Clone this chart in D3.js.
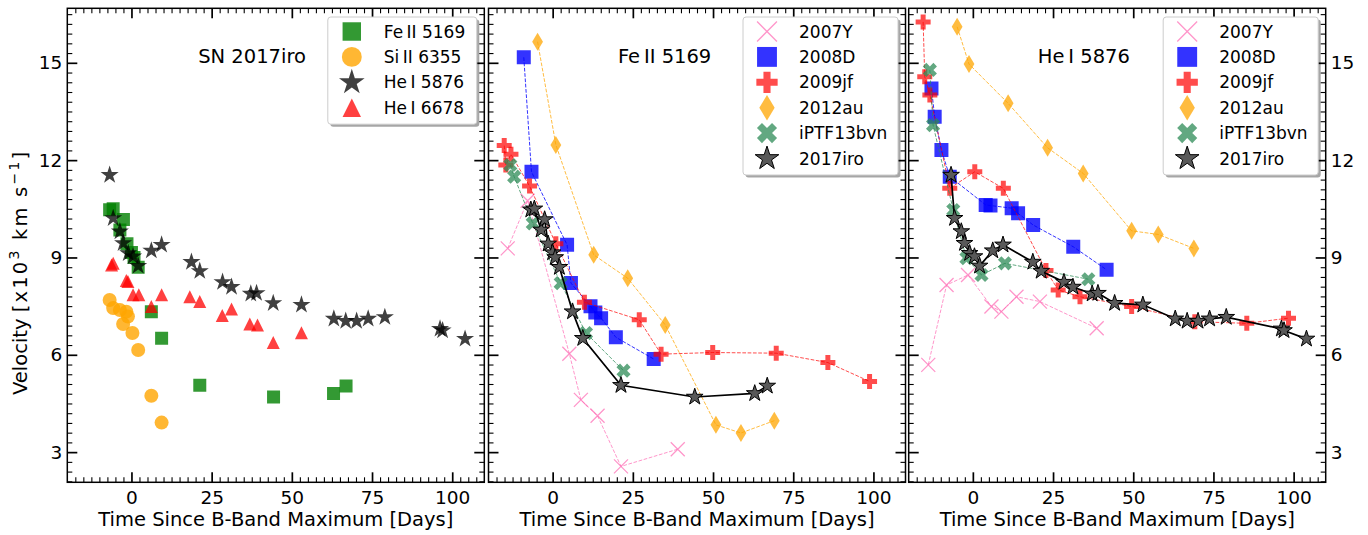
<!DOCTYPE html>
<html>
<head>
<meta charset="utf-8">
<script src="https://cdn.jsdelivr.net/npm/d3@7"></script>
<style>
  body { margin: 0; background: #fff; }
  svg { display: block; font-family: 'DejaVu Sans', sans-serif; }
</style>
</head>
<body>
<svg id="chart" width="1368" height="535"></svg>
<script>
// ---- data: [days since B max, velocity in 10^3 km/s] ----

// SN 2017iro lines (left panel)
const iroFeII5169 = [[-6.8, 10.47], [-5.7, 10.5], [-3.6, 9.85], [-2.5, 10.17], [-1.4, 9.42], [0.0, 9.15],
  [0.8, 9.0], [2.1, 8.7], [6.2, 7.33], [9.4, 6.51], [21.3, 5.06], [44.3, 4.70], [63.0, 4.81], [66.9, 5.04]];
const iroSiII6355 = [[-6.8, 7.69], [-5.7, 7.44], [-3.6, 7.38], [-1.6, 7.33], [-1.1, 7.18], [-2.6, 6.95],
  [0.3, 6.67], [2.1, 6.15], [6.2, 4.74], [9.4, 3.91]];
const iroHeI5876 = [[-6.8, 11.54], [-5.7, 10.21], [-3.6, 9.8], [-2.6, 9.44], [-1.0, 9.13], [0.5, 9.03],
  [2.1, 8.74], [6.2, 9.21], [9.4, 9.39], [18.7, 8.86], [21.3, 8.58], [28.4, 8.24], [31.2, 8.09],
  [37.2, 7.88], [39.0, 7.90], [44.2, 7.59], [53.0, 7.54], [63.1, 7.11], [66.8, 7.04], [70.2, 7.04],
  [73.8, 7.11], [79.0, 7.16], [96.2, 6.80], [97.0, 6.75], [104.0, 6.49]];
const iroHeI6678 = [[-6.2, 8.77], [-5.7, 8.82], [-1.6, 8.29], [-1.1, 8.26], [0.5, 7.85], [2.3, 7.85],
  [6.2, 7.49], [9.4, 7.85], [18.2, 7.79], [21.3, 7.64], [28.3, 7.21], [31.2, 7.41], [36.9, 6.95],
  [39.3, 6.92], [44.2, 6.38], [53.0, 6.68]];

// comparison objects, Fe II 5169
const feII_2007Y = [[-14.0, 9.28], [-7.8, 10.75], [5.2, 6.03], [8.8, 4.61], [14.0, 4.12], [21.3, 2.56], [39.0, 3.09]];
const feII_2008D = [[-9.0, 15.17], [-6.6, 11.64], [4.5, 9.39], [5.7, 8.21], [11.8, 7.5], [13.3, 7.3],
  [15.1, 7.13], [19.7, 6.54], [31.5, 5.87]];
const feII_2009jf = [[-15.1, 12.45], [-14.6, 11.85], [-13.0, 12.18], [-7.2, 11.2], [1.0, 9.42], [9.9, 7.62],
  [27.0, 7.08], [33.8, 6.02], [49.9, 6.07], [69.7, 6.05], [85.8, 5.76], [98.8, 5.18]];
const feII_2012au = [[-4.7, 15.65], [1.0, 12.47], [12.8, 9.08], [23.4, 8.36], [35.1, 6.92], [50.9, 3.84],
  [58.7, 3.59], [69.1, 3.97]];
const feII_iPTF13bvn = [[-13.2, 11.85], [-12.0, 11.49], [-6.2, 10.05], [2.5, 8.21], [10.4, 6.67], [22.1, 5.51]];

// comparison objects, He I 5876
const heI_2007Y = [[-13.9, 5.69], [-8.2, 8.15], [-1.5, 8.46], [5.8, 7.49], [8.9, 7.33], [13.6, 7.79],
  [20.9, 7.64], [38.6, 6.82]];
const heI_2008D = [[-12.9, 14.21], [-11.9, 13.34], [-9.8, 12.31], [-7.2, 11.49], [4.0, 10.62], [5.5, 10.6],
  [12.1, 10.52], [14.1, 10.36], [18.8, 10.0], [31.3, 9.33], [41.7, 8.62]];
const heI_2009jf = [[-15.5, 16.26], [-15.0, 14.57], [-13.4, 14.01], [-7.2, 11.13], [0.6, 11.64], [9.5, 11.13],
  [22.8, 8.6], [26.6, 8.0], [33.4, 7.79], [49.5, 7.49], [69.2, 7.02], [85.4, 6.97], [98.4, 7.13]];
const heI_2012au = [[-4.9, 16.11], [-1.2, 14.96], [11.0, 13.75], [23.3, 12.38], [34.4, 11.59], [49.5, 9.82],
  [57.8, 9.71], [68.9, 9.28]];
const heI_iPTF13bvn = [[-13.4, 14.78], [-12.4, 13.08], [-6.1, 10.46], [-2.0, 8.98], [2.7, 8.46], [10.0, 8.82],
  [36.0, 8.33]];

const xTicks = [0, 25, 50, 75, 100];
const yTicks = [3, 6, 9, 12, 15];
const lineNames = ['Fe\u2009II 5169', 'Si\u2009II 6355', 'He\u2009I 5876', 'He\u2009I 6678'];
const objectNames = ['2007Y', '2008D', '2009jf', '2012au', 'iPTF13bvn', '2017iro'];
const panelTitles = ['SN 2017iro', 'Fe\u2009II 5169', 'He\u2009I 5876'];
const titleDays = [37.6, 34.9, 34.6];

// ---- layout ----
const panelLefts = [67.3, 488.5, 908.7];
const panelWidth = 417;
const plotTop = 8.3, plotBottom = 482.3;
const xDomain = [-20, 110], yDomain = [2.07, 16.68];
const tickFont = 18.5, labelFont = 19.5, legendFont = 17;


// marker outlines, s = full extent in px
const markerPath = {
  square: s => `M${-s / 2},${-s / 2}h${s}v${s}h${-s}Z`,
  circle: s => {
    const r = s / 2;
    return `M${r},0A${r},${r} 0 1,1 ${-r},0A${r},${r} 0 1,1 ${r},0Z`;
  },
  star: s => {
    const pts = d3.range(10).map(i => {
      const a = -Math.PI / 2 + i * Math.PI / 5, r = i % 2 ? s / 2 * 0.382 : s / 2;
      return [r * Math.cos(a), r * Math.sin(a)];
    });
    return 'M' + pts.join('L') + 'Z';
  },
  triangle: s => `M0,${-s / 2}L${s / 2},${s / 2}L${-s / 2},${s / 2}Z`,
  diamond: s => `M0,${-s / 2}L${s * 0.3},0L0,${s / 2}L${-s * 0.3},0Z`,
  plus: s => {
    const a = s / 2, b = s / 6;
    return `M${-b},${-a}H${b}V${-b}H${a}V${b}H${b}V${a}H${-b}V${b}H${-a}V${-b}H${-b}Z`;
  },
  xfilled: s => {
    const a = s / 2, b = s / 6, c = Math.SQRT1_2;
    const pts = [[-b, -a], [b, -a], [b, -b], [a, -b], [a, b], [b, b], [b, a], [-b, a], [-b, b], [-a, b], [-a, -b], [-b, -b]]
      .map(([px, py]) => [(px - py) * c, (px + py) * c]);
    return 'M' + pts.join('L') + 'Z';
  },
  x: s => `M${-s / 2},${-s / 2}L${s / 2},${s / 2}M${-s / 2},${s / 2}L${s / 2},${-s / 2}`
};

const lineStyles = [
  {shape: 'square', color: 'green', alpha: 0.8, size: 13},
  {shape: 'circle', color: 'orange', alpha: 0.8, size: 14},
  {shape: 'star', color: 'black', alpha: 0.75, size: 19},
  {shape: 'triangle', color: 'red', alpha: 0.75, size: 13}
];
const objectStyles = [
  {shape: 'x', color: '#ff69b4', alpha: 0.7, size: 14},
  {shape: 'square', color: 'blue', alpha: 0.8, size: 14},
  {shape: 'plus', color: 'red', alpha: 0.7, size: 15},
  {shape: 'diamond', color: 'orange', alpha: 0.75, size: 18},
  {shape: 'xfilled', color: 'seagreen', alpha: 0.75, size: 15},
  {shape: 'star', color: '#595959', alpha: 1, size: 17.5, edge: 'black'}
];


const svg = d3.select('#chart');
svg.append('rect').attr('width', 1368).attr('height', 535).attr('fill', '#fff');

const y = d3.scaleLinear().domain(yDomain).range([plotBottom, plotTop]);


function drawMarkers(selection, pts, x, st, scale) {
  const s = st.size * (scale || 1);
  const stroked = st.shape === 'x';
  selection.selectAll(null)
    .data(pts)
    .join('path')
      .attr('transform', d => `translate(${x(d[0])},${y(d[1])})`)
      .attr('d', markerPath[st.shape](s))
      .attr('fill', stroked ? 'none' : st.color)
      .attr('stroke', stroked ? st.color : (st.edge || 'none'))
      .attr('stroke-width', stroked ? 1.3 : 1)
      .attr('opacity', st.alpha);
}


function drawSeries(selection, pts, x, st, dashed) {
  const line = d3.line().x(d => x(d[0])).y(d => y(d[1]));
  if (dashed) {
    selection.append('path')
        .datum(pts)
        .attr('d', line)
        .attr('fill', 'none')
        .attr('stroke', st.color)
        .attr('stroke-width', 1)
        .attr('stroke-dasharray', '3.7,1.6')
        .attr('opacity', st.alpha);
  } else if (st.edge) {
    selection.append('path')
        .datum(pts)
        .attr('d', line)
        .attr('fill', 'none')
        .attr('stroke', 'black')
        .attr('stroke-width', 1.7);
  }
  selection.append('g').call(drawMarkers, pts, x, st);
}


function drawAxes(selection, x, i) {
  const minorX = d3.range(-17.5, 110, 2.5).filter(v => v % 25 !== 0);
  const minorY = d3.range(21, 167, 3).filter(v => v % 30 !== 0).map(v => v / 10);
  const right = panelLefts[i] + panelWidth;

  // [axis factory, translate, show labels, is x]
  const axes = [
    [() => d3.axisBottom(x), `translate(0,${plotBottom})`, true, true],
    [() => d3.axisTop(x), `translate(0,${plotTop})`, false, true],
    [() => d3.axisLeft(y), `translate(${panelLefts[i]},0)`, i === 0, false],
    [() => d3.axisRight(y), `translate(${right},0)`, i === 2, false]
  ];
  axes.forEach(([makeAxis, tr, labels, isX]) => {
    const g = selection.append('g').attr('transform', tr);
    // minor ticks
    g.append('g')
        .call(makeAxis().tickValues(isX ? minorX : minorY).tickSize(-5).tickFormat(''))
        .call(a => a.select('.domain').remove())
        .call(a => a.selectAll('line').attr('stroke-width', 1.1));
    // major ticks
    g.append('g')
        .call(makeAxis().tickValues(isX ? xTicks : yTicks).tickSize(-10)
          .tickPadding(isX ? 9 : 5)
          .tickFormat(labels ? d3.format('d') : ''))
        .call(a => a.select('.domain').remove())
        .call(a => a.selectAll('line').attr('stroke-width', 1.7))
        .call(a => a.selectAll('text')
          .attr('font-size', tickFont)
          .attr('font-family', 'DejaVu Sans')
          .attr('fill', '#000'));
  });

  selection.append('rect')
      .attr('x', panelLefts[i])
      .attr('y', plotTop)
      .attr('width', panelWidth)
      .attr('height', plotBottom - plotTop)
      .attr('fill', 'none')
      .attr('stroke', '#000')
      .attr('stroke-width', 1.5);

  selection.append('text')
      .attr('x', panelLefts[i] + panelWidth / 2)
      .attr('y', 526)
      .attr('text-anchor', 'middle')
      .attr('font-size', labelFont)
      .text('Time Since B-Band Maximum [Days]');
}


function drawLegend(selection, names, styles, i, w) {
  const right = panelLefts[i] + panelWidth - 7.5;
  const left = right - w;
  const top = 17;
  const step = 25.4;
  const h = 14 + step * (names.length - 1) + 17;
  const g = selection.append('g').attr('transform', `translate(${left},${top})`);
  g.append('rect')
      .attr('x', 2.5).attr('y', 2.5)
      .attr('width', w).attr('height', h)
      .attr('rx', 3)
      .attr('fill', '#000')
      .attr('opacity', 0.35);
  g.append('rect')
      .attr('width', w).attr('height', h)
      .attr('rx', 3)
      .attr('fill', '#fff')
      .attr('stroke', '#cccccc')
      .attr('stroke-width', 1);
  names.forEach((name, k) => {
    const cy = 14.5 + k * step;
    const st = styles[k];
    const item = g.append('g').attr('transform', `translate(24,${cy})`);
    item.append('path')
        .attr('d', markerPath[st.shape](st.size * 1.42))
        .attr('fill', st.shape === 'x' ? 'none' : st.color)
        .attr('stroke', st.shape === 'x' ? st.color : (st.edge || 'none'))
        .attr('stroke-width', st.shape === 'x' ? 1.3 : 1)
        .attr('opacity', st.edge ? 1 : st.alpha);
    g.append('text')
        .attr('x', 56)
        .attr('y', cy)
        .attr('dy', '0.36em')
        .attr('font-size', legendFont)
        .text(name);
  });
}


// ---- panels ----
const comparisons = [
  [feII_2007Y, feII_2008D, feII_2009jf, feII_2012au, feII_iPTF13bvn, iroFeII5169],
  [heI_2007Y, heI_2008D, heI_2009jf, heI_2012au, heI_iPTF13bvn, iroHeI5876]
];

panelLefts.forEach((left, i) => {
  const x = d3.scaleLinear().domain(xDomain).range([left, left + panelWidth]);
  const panel = svg.append('g').attr('class', 'panel');
  const clipId = 'clip' + i;
  panel.append('clipPath').attr('id', clipId)
    .append('rect')
      .attr('x', left).attr('y', plotTop)
      .attr('width', panelWidth).attr('height', plotBottom - plotTop);
  const data = panel.append('g').attr('clip-path', `url(#${clipId})`);

  if (i === 0) {
    [iroFeII5169, iroSiII6355, iroHeI5876, iroHeI6678].forEach((pts, k) => {
      data.append('g').call(drawMarkers, pts, x, lineStyles[k]);
    });
  } else {
    comparisons[i - 1].forEach((pts, k) => {
      data.append('g').call(drawSeries, pts, x, objectStyles[k], k < 5);
    });
  }

  panel.append('text')
      .attr('x', x(titleDays[i]))
      .attr('y', y(15))
      .attr('text-anchor', 'middle')
      .attr('font-size', labelFont)
      .text(panelTitles[i]);

  panel.call(drawAxes, x, i);

  if (i === 0) {
    panel.call(drawLegend, lineNames, lineStyles, i, 149);
  } else {
    panel.call(drawLegend, objectNames, objectStyles, i, 155);
  }
});

// y label (mathtext-like spacing in the unit part)
const ylab = svg.append('text')
    .attr('transform', 'translate(27,395) rotate(-90)')
    .attr('text-anchor', 'start')
    .attr('font-size', labelFont);
ylab.append('tspan').text('Velocity ');
const unit = ylab.append('tspan').attr('letter-spacing', 2.2);
unit.append('tspan').text('[x10');
unit.append('tspan').attr('font-size', labelFont * 0.72).attr('dy', -8).text('3');
unit.append('tspan').attr('dy', 8).text(' km s');
unit.append('tspan').attr('font-size', labelFont * 0.72).attr('dy', -8).text('\u22121');
unit.append('tspan').attr('dy', 8).text(']');
</script>
</body>
</html>
